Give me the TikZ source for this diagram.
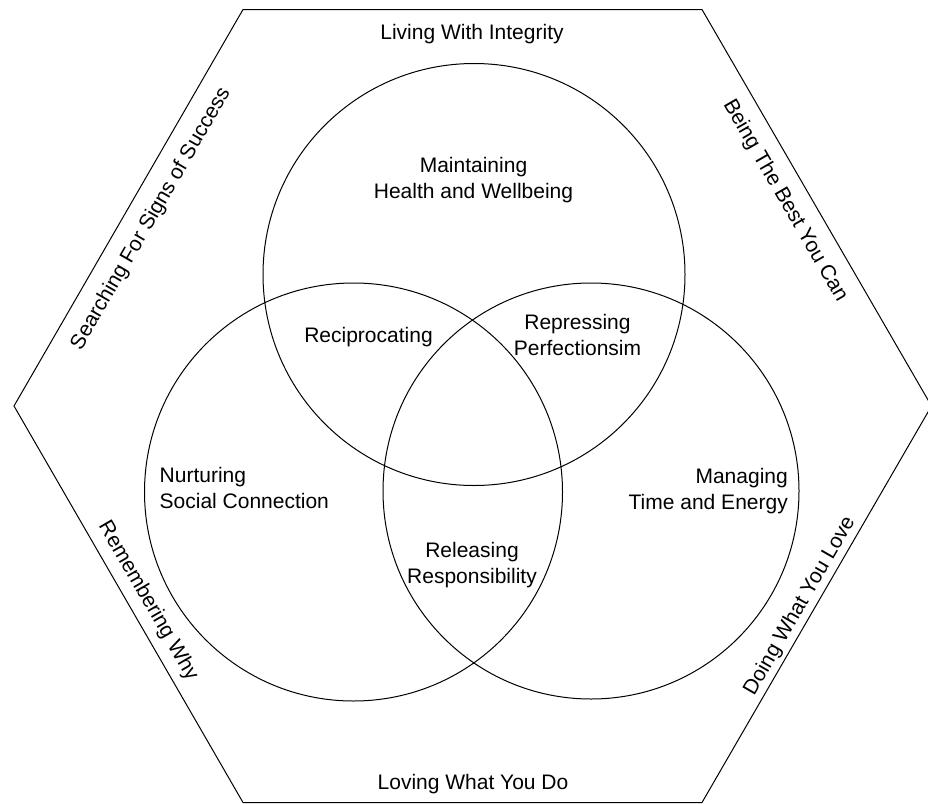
\documentclass[tikz,border=0pt]{standalone}
\usepackage{fontspec}
\setmainfont{Liberation Sans}
\begin{document}
\begin{tikzpicture}[x=1pt,y=-1pt,
  lbl/.style={inner sep=0pt,font=\fontsize{21}{26}\selectfont},
  ring/.style={draw=black,line width=1pt},
  hexline/.style={draw=black,line width=1pt,line join=miter}]
\useasboundingbox (0,0) rectangle (928,803);
% hexagon
\coordinate (h1) at (243,9.5);
\coordinate (h2) at (702,9.5);
\coordinate (h3) at (931.5,406);
\coordinate (h4) at (702,802.5);
\coordinate (h5) at (243,802.5);
\coordinate (h6) at (14,406);
\draw[hexline] (h1) -- (h2) -- (h3) -- (h4) -- (h5) -- (h6) -- cycle;
% circles
\draw[ring] (474,274.5) circle[radius=211];
\draw[ring] (353.5,492) circle[radius=209];
\draw[ring] (591,491) circle[radius=208];
% circle texts
\node[lbl,align=center] (health) at (473.5,179.7) {Maintaining\\Health and Wellbeing};
\node[lbl,anchor=base] (recip) at (368.5,342) {Reciprocating};
\node[lbl,align=center] (perf) at (577.5,335.1) {Repressing\\Perfectionsim};
\node[lbl,align=left,anchor=west] (social) at (159.5,488) {Nurturing\\Social Connection};
\node[lbl,align=right,anchor=east] (time) at (788,490.7) {Managing\\Time and Energy};
\node[lbl,align=center] (resp) at (472,565.2) {Releasing\\Responsibility};
% hexagon side texts
\node[lbl,anchor=base] (top) at (472,39.3) {Living With Integrity};
\node[lbl,anchor=base] (bottom) at (473,789.7) {Loving What You Do};
\node[lbl,rotate=60] (ul) at (151,219) {Searching For Signs of Success};
\node[lbl,rotate=-60] (ur) at (785,201) {Being The Best You Can};
\node[lbl,rotate=-60] (ll) at (148,601) {Remembering Why};
\node[lbl,rotate=60] (lr) at (800,606) {Doing What You Love};
\end{tikzpicture}
\end{document}
